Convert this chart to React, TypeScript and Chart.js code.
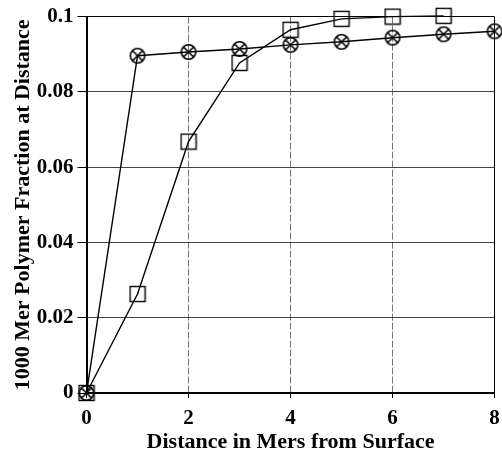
import React, { useEffect, useRef } from "react";
import { Chart, registerables } from "chart.js";

Chart.register(...registerables);

const circleX = [0, 1, 2, 3, 4, 5, 6, 7, 8];
const circleY = [0, 0.0896, 0.0906, 0.0914, 0.0925, 0.0933, 0.0944, 0.0953, 0.0961];
const squareX = [0, 1, 2, 3, 4, 5, 6, 7];
const squareY = [0, 0.0263, 0.0668, 0.0877, 0.0965, 0.0994, 0.1, 0.1002];
const xTitle = "Distance in Mers from Surface";
const yTitle = "1000 Mer Polymer Fraction at Distance";

function makeCircleX(): HTMLCanvasElement {
  const c = document.createElement("canvas");
  c.width = 18;
  c.height = 18;
  const ctx = c.getContext("2d")!;
  ctx.strokeStyle = "#000";
  ctx.lineWidth = 1.6;
  ctx.beginPath();
  ctx.arc(9, 9, 7.2, 0, Math.PI * 2);
  ctx.stroke();
  const d = 5;
  ctx.beginPath();
  ctx.moveTo(9 - d, 9 - d);
  ctx.lineTo(9 + d, 9 + d);
  ctx.moveTo(9 + d, 9 - d);
  ctx.lineTo(9 - d, 9 + d);
  ctx.stroke();
  return c;
}

function makeSquare(): HTMLCanvasElement {
  const c = document.createElement("canvas");
  c.width = 18;
  c.height = 18;
  const ctx = c.getContext("2d")!;
  ctx.strokeStyle = "#000";
  ctx.lineWidth = 1.4;
  ctx.strokeRect(1.5, 1.5, 15, 15);
  return c;
}

export default function App() {
  const ref = useRef<HTMLCanvasElement>(null);
  useEffect(() => {
    const fam = "'Liberation Serif', 'Times New Roman', serif";
    const tickFont = { family: fam, weight: "bold" as const, size: 21 };
    const xTitleFont = { family: fam, weight: "bold" as const, size: 22 };
    const yTitleFont = { family: fam, weight: "bold" as const, size: 22 };
    const chart = new Chart(ref.current!, {
      type: "line",
      data: {
        datasets: [
          {
            data: circleX.map((x, i) => ({ x, y: circleY[i] })),
            borderColor: "#000",
            borderWidth: 1.4,
            pointStyle: makeCircleX(),
            pointRadius: 9,
            clip: false,
          },
          {
            data: squareX.map((x, i) => ({ x, y: squareY[i] })),
            borderColor: "#000",
            borderWidth: 1.4,
            pointStyle: makeSquare(),
            pointRadius: 9,
            clip: false,
          },
        ],
      },
      options: {
        animation: false,
        responsive: true,
        maintainAspectRatio: false,
        layout: { padding: { left: 0, right: 0, top: 15, bottom: 0 } },
        plugins: { legend: { display: false }, tooltip: { enabled: false } },
        scales: {
          x: {
            type: "linear",
            min: 0,
            max: 8,
            afterFit: (s: any) => {
              s.height = 63;
              s.paddingRight = 0;
              s.paddingLeft = 0;
            },
            ticks: { stepSize: 2, color: "#000", font: tickFont, padding: 8 },
            border: {
              color: "#000",
              width: 2,
              dash: (ctx: any) => (ctx.tick && ctx.tick.value > 0 && ctx.tick.value < 8 ? [7, 2] : []),
            },
            grid: {
              color: (ctx: any) => (ctx.tick && ctx.tick.value === 8 ? "#000" : "#777"),
              lineWidth: 1,
              tickLength: 5,
              tickColor: "#000",
            },
            title: { display: true, text: xTitle, color: "#000", font: xTitleFont, padding: { top: 0, bottom: 0 } },
          },
          y: {
            type: "linear",
            min: 0,
            max: 0.1,
            afterFit: (s: any) => {
              s.width = 86.5;
            },
            ticks: {
              stepSize: 0.02,
              color: "#000",
              font: tickFont,
              padding: 4,
              callback: (v: any) => String(Number(Number(v).toFixed(2))),
            },
            border: { color: "#000", width: 2 },
            grid: {
              color: (ctx: any) => (ctx.tick && ctx.tick.value >= 0.099 ? "#000" : "#444"),
              lineWidth: 1,
              tickLength: 9,
              tickColor: "#000",
            },
            title: { display: true, text: yTitle, color: "#000", font: yTitleFont, padding: { top: 10, bottom: 0 } },
          },
        },
      },
    });
    return () => chart.destroy();
  }, []);
  return (
    <div style={{ position: "fixed", left: 0, top: 0, width: 505, height: 456, background: "#fff" }}>
      <canvas ref={ref} />
    </div>
  );
}
